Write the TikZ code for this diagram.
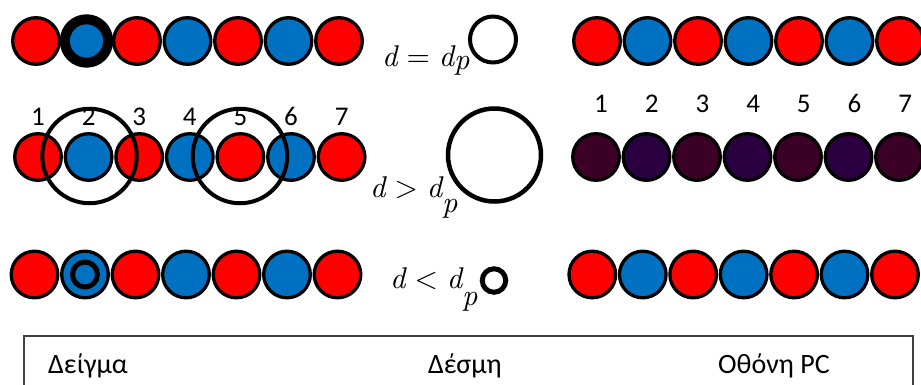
\documentclass[tikz,border=0pt]{standalone}
\usepackage{fontspec}
\setmainfont{Carlito}
\newfontfamily\eqfont{lmroman10-regular.otf}[ItalicFont=lmroman10-italic.otf]
\definecolor{cred}{HTML}{FF0000}
\definecolor{cblue}{HTML}{0070C0}
\definecolor{pred}{HTML}{3C0026}
\definecolor{pblue}{HTML}{2A0040}
\definecolor{boxgray}{HTML}{404040}
\newcommand{\vi}[1]{{\itshape #1}}
\newcommand{\rel}[1]{\hspace{9pt}#1\hspace{9pt}}
\tikzset{
  bead/.style={circle, draw=black, line width=3.3pt, minimum size=46.6pt, inner sep=0pt},
  ring/.style={circle, draw=black, fill=none, inner sep=0pt},
  num/.style={font=\fontsize{27}{32}\selectfont, inner sep=0pt},
  lbl/.style={font=\fontsize{28}{33}\selectfont, inner sep=0pt, anchor=base west},
  eq/.style={font=\eqfont\fontsize{30}{36}\selectfont, inner sep=0pt, anchor=base west},
}
\begin{document}
\begin{tikzpicture}[x=1pt,y=-1pt]
\useasboundingbox (0,0) rectangle (921,385);
\clip (0,0) rectangle (921,385);
% left rows
\foreach \i in {1,...,7}{
  \pgfmathsetmacro{\xa}{36+50.5*(\i-1)}
  \pgfmathsetmacro{\xb}{38+50.6*(\i-1)}
  \pgfmathsetmacro{\xc}{34.5+50.5*(\i-1)}
  \ifodd\i \def\col{cred}\else\def\col{cblue}\fi
  \ifnum\i=2\else
    \node[bead, fill=\col] (a\i) at (\xa,41) {};
  \fi
  \node[bead, fill=\col] (b\i) at (\xb,157) {};
  \node[bead, fill=\col] (c\i) at (\xc,274.5) {};
  \node[num] (n\i) at (\xb,116.5) {\i};
}
\node[circle, draw=black, fill=cblue, line width=10pt, minimum size=43.4pt, inner sep=0pt] (a2) at (86.5,41) {};
\node[ring, line width=5pt, minimum size=25pt] (c2r) at (c2) {};
\node[ring, line width=4pt, minimum size=94.5pt] (r1) at (89.5,156) {};
\node[ring, line width=4pt, minimum size=94.5pt] (r2) at (240,156) {};
% right rows
\foreach \i in {1,...,7}{
  \pgfmathsetmacro{\xa}{597+50.5*(\i-1)}
  \pgfmathsetmacro{\xb}{596+50.5*(\i-1)}
  \pgfmathsetmacro{\xc}{592.3+50.45*(\i-1)}
  \pgfmathsetmacro{\xn}{601+50.7*(\i-1)}
  \ifodd\i \def\col{cred}\def\pcol{pred}\else\def\col{cblue}\def\pcol{pblue}\fi
  \node[bead, fill=\col] (d\i) at (\xa,41) {};
  \node[bead, fill=\pcol] (e\i) at (\xb,157) {};
  \node[bead, fill=\col] (f\i) at (\xc,274.5) {};
  \node[num] (m\i) at (\xn,103.5) {\i};
}
% beam circles
\node[ring, line width=4pt, minimum size=46pt] (s1) at (493,39.5) {};
\node[ring, line width=4.5pt, minimum size=93pt] (s2) at (494.5,155) {};
\node[ring, line width=5pt, minimum size=23.5pt] (s3) at (494,280.5) {};
% equations
\node[eq] (q1) at (382,67) {\vi{d}\rel{=}\vi{d}\raisebox{-3pt}{\vi{p}}};
\node[eq] (q2) at (370,197) {\vi{d}\rel{>}\vi{d}\raisebox{-15pt}{\vi{p}}};
\node[eq] (q3) at (390,288) {\vi{d}\rel{<}\vi{d}\raisebox{-17pt}{\vi{p}}};
% bottom box
\draw[boxgray, line width=1.3pt] (24,400) -- (24,336) -- (913,336) -- (913,400);
\node[lbl] (t1) at (48,373) {Δείγμα};
\node[lbl] (t2) at (428,373) {Δέσμη};
\node[lbl] (t3) at (718,373) {Οθόνη PC};
\end{tikzpicture}
\end{document}
